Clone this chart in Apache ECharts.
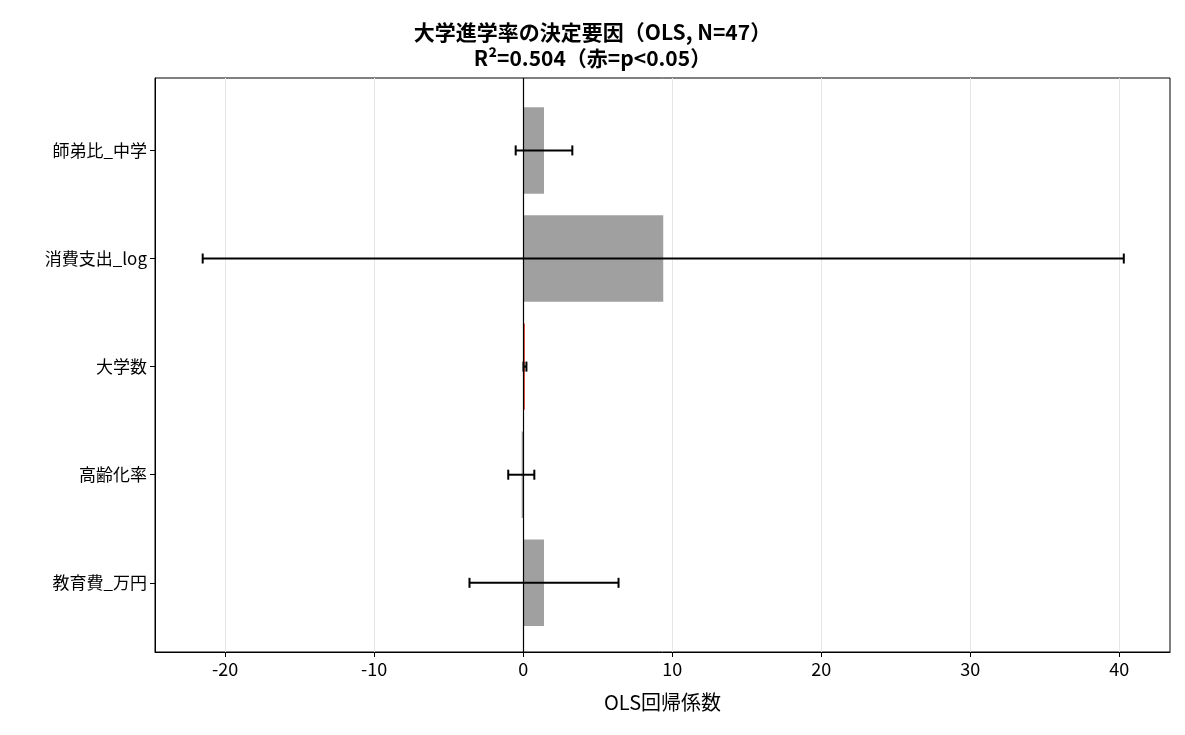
<!DOCTYPE html>
<html><head><meta charset="utf-8">
<script src="https://cdn.jsdelivr.net/npm/echarts@6/dist/echarts.min.js"></script>
<style>html,body{margin:0;padding:0;background:#fff}#c{width:1185px;height:735px}</style>
</head><body><div id="c"></div>
<script>
const categories = ['教育費_万円','高齢化率','大学数','消費支出_log','師弟比_中学'];
const coef = [1.4, -0.1, 0.12, 9.4, 1.4];
const errLow = [-3.6, -1.0, 0.02, -21.5, -0.5];
const errHigh = [6.4, 0.75, 0.22, 40.3, 3.3];
const significant = [false, false, true, false, false];
const xTicks = [-20,-10,0,10,20,30,40];
const yTicks = [0,1,2,3,4];

const chart = echarts.init(document.getElementById('c'));
const font = '"Noto Sans CJK JP", "Noto Sans", sans-serif';
chart.setOption({
  animation:false,
  title:{text:'大学進学率の決定要因（OLS, N=47）\nR²=0.504（赤=p<0.05）',left:'center',top:14,
    textStyle:{fontFamily:font,fontSize:21,fontWeight:'bold',color:'#000',lineHeight:26}},
  grid:{left:155,right:15,top:78,bottom:83,show:true,borderColor:'#000',borderWidth:1,backgroundColor:'transparent'},
  xAxis:{type:'value',min:-24.7,max:43.4,
    name:'OLS回帰係数',nameLocation:'middle',nameGap:40,
    nameTextStyle:{fontFamily:font,fontSize:20,color:'#000'},
    axisLine:{show:true,onZero:false,lineStyle:{color:'#000'}},
    axisTick:{show:true,customValues:xTicks,length:5,lineStyle:{color:'#000'}},
    axisLabel:{fontFamily:font,fontSize:18,color:'#000',customValues:xTicks},
    splitLine:{show:true,customValues:xTicks,lineStyle:{color:'#e6e6e6'}}},
  yAxis:{type:'value',min:-0.64,max:4.67,
    axisLine:{show:true,onZero:false,lineStyle:{color:'#000'}},
    axisTick:{show:true,customValues:yTicks,length:5,lineStyle:{color:'#000'}},
    axisLabel:{fontFamily:font,fontSize:17,color:'#000',customValues:yTicks,formatter:v=>categories[Math.round(v)]},
    splitLine:{show:false}},
  series:[
    {type:'custom',
     renderItem:(params,api)=>{
       const y=api.value(0), v=api.value(1);
       const a=api.coord([0,y-0.4]), b=api.coord([v,y+0.4]);
       const i=params.dataIndex;
       return {type:'rect',shape:{x:Math.min(a[0],b[0]),y:Math.min(a[1],b[1]),width:Math.max(Math.abs(b[0]-a[0]),1),height:Math.abs(b[1]-a[1])},
         style:{fill:significant[i]?'#e74c3c':'#a0a0a0'}};
     },
     encode:{x:1,y:0},
     data:categories.map((c,i)=>[i,coef[i]]),z:3},
    {type:'custom',
     renderItem:(params,api)=>{
       const y=api.value(0), lo=api.value(1), hi=api.value(2);
       const p1=api.coord([lo,y]), p2=api.coord([hi,y]);
       const h=5; const st={stroke:'#000',lineWidth:2};
       return {type:'group',children:[
         {type:'line',shape:{x1:p1[0],y1:p1[1],x2:p2[0],y2:p2[1]},style:st},
         {type:'line',shape:{x1:p1[0],y1:p1[1]-h,x2:p1[0],y2:p1[1]+h},style:st},
         {type:'line',shape:{x1:p2[0],y1:p2[1]-h,x2:p2[0],y2:p2[1]+h},style:st}]};
     },
     encode:{x:[1,2],y:0},
     data:categories.map((c,i)=>[i,errLow[i],errHigh[i]]),z:5},
    {type:'line',data:[],markLine:{silent:true,symbol:'none',label:{show:false},
      lineStyle:{color:'#000',width:1.2,type:'solid'},data:[{xAxis:0}]},z:6}
  ]
});
</script></body></html>
